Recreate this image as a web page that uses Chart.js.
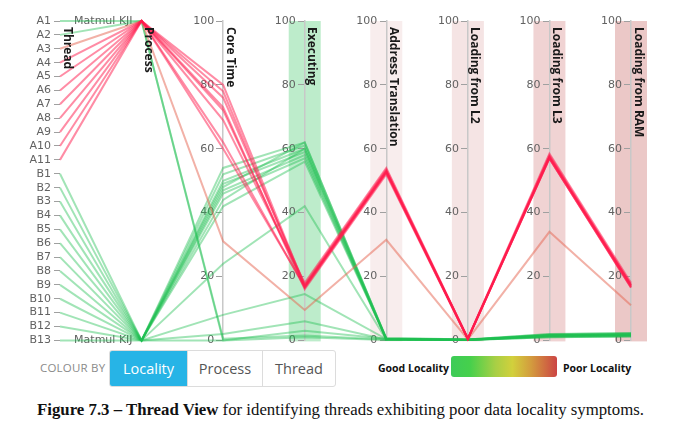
<!DOCTYPE html>
<html>
<head>
<meta charset="utf-8">
<script src="https://cdn.jsdelivr.net/npm/chart.js@4"></script>
<style>
  body { margin: 0; background: #fff; width: 681px; height: 430px; position: relative; overflow: hidden; }
  #wrap { position: absolute; left: 0; top: 0; width: 681px; height: 350px; }
  .cb { position: absolute; left: 40px; top: 360px; font: 11.5px "Open Sans", sans-serif; color: #8a8a8a; letter-spacing: 0.2px; }
  .btns { position: absolute; left: 109px; top: 350px; height: 35px; border: 1px solid #dcdcdc; border-radius: 3px; display: flex; overflow: hidden; }
  .btns span { display: block; height: 35px; font: 14.5px "Open Sans", sans-serif; line-height: 35px; text-align: center; color: #555; border-left: 1px solid #dcdcdc; }
  .btns span.on { background: #27b4e6; color: #fff; border-left: none; }
  .lg { position: absolute; top: 361px; font: bold 10.5px "Open Sans", sans-serif; color: #111; }
  .bar { position: absolute; left: 451px; top: 356px; width: 106px; height: 21px; border-radius: 3px;
         background: linear-gradient(to right, #3dcb58 0%, #46d04c 18%, #a8cf45 42%, #d2d03c 58%, #d39a3e 76%, #cc4444 100%); }
  .cap { position: absolute; left: 0; width: 681px; top: 400px; margin: 0; text-align: center; font: 16.8px "Liberation Serif", serif; color: #111; }
</style>
</head>
<body>
<div id="wrap"><canvas id="pc" width="681" height="350"></canvas></div>
<span class="cb">COLOUR BY</span>
<div class="btns"><span class="on" style="width:77px">Locality</span><span style="width:74px">Process</span><span style="width:72px">Thread</span></div>
<span class="lg" style="left:378px">Good Locality</span>
<span class="bar"></span>
<span class="lg" style="left:563px">Poor Locality</span>
<p class="cap"><b>Figure 7.3 – Thread View</b> for identifying threads exhibiting poor data locality symptoms.</p>

<script>
var dims = ['Thread', 'Process', 'Core Time', 'Executing', 'Address Translation', 'Loading from L2', 'Loading from L3', 'Loading from RAM'];
var threads = ['A1','A2','A3','A4','A5','A6','A7','A8','A9','A10','A11',
               'B1','B2','B3','B4','B5','B6','B7','B8','B9','B10','B11','B12','B13'];
var processes = ['Matmul KJI', 'Matmul KIJ'];
var threadProcess = [0,0,0,0,0,0,0,0,0,0,0, 1,1,1,1,1,1,1,1,1,1,1,1,1];
// 0 = good, 1 = mid, 2 = poor
var locality = [0,0,1,2,2,2,2,2,2,2,2, 0,0,0,0,0,0,0,0,0,0,0,0,0];

var coreTime = [0, 0.5, 31, 80, 78, 76, 73, 72, 69, 62, 60,
                54, 52, 50, 49, 48, 47, 46, 44, 42, 24, 8, 2, 0];
var executing = [3, 1.5, 9.5, 17, 16.5, 17.5, 16, 17, 18, 16.5, 17,
                 62, 61, 60, 59, 62, 58, 57, 60, 56, 42, 14.5, 6, 1];
var addressTranslation = [0.5, 0.3, 31.5, 53, 52.5, 53.5, 52, 53, 54, 52.5, 53,
                          0.5, 0.3, 0.8, 0.2, 0.5, 0.4, 0.6, 0.3, 0.5, 0.2, 0.4, 0.3, 0.1];
var loadL2 = [0.2, 0.1, 0.3, 0.5, 0.5, 0.6, 0.4, 0.5, 0.6, 0.5, 0.5,
              0.2, 0.1, 0.3, 0.2, 0.1, 0.2, 0.3, 0.1, 0.2, 0.1, 0.2, 0.1, 0.1];
var loadL3 = [1.5, 1, 34, 57.5, 57, 58, 57, 57.5, 58.5, 57, 57.5,
              1.7, 1.5, 2, 1.2, 1.8, 1.5, 1.9, 1.4, 1.6, 1.2, 1.5, 1.3, 1];
var loadRAM = [1.8, 1.2, 11, 17, 16.5, 17.5, 16.8, 17.2, 18, 16.6, 17.3,
               2, 1.8, 2.3, 1.5, 2.1, 1.7, 2.2, 1.6, 1.9, 1.4, 1.8, 1.5, 1.2];

var lineColors = ['rgba(30,190,80,0.42)', 'rgba(230,100,80,0.5)', 'rgba(255,25,75,0.5)'];
var bandColors = { 3: '#bdeccb', 4: '#f8eded', 5: '#f5e4e4', 6: '#f0d3d3', 7: '#ebc8c7' };
var labelGap = 0.11; // tick labels sit this far (in x units) left of their axis line

function threadValue(i) { return 100 - i * 100 / (threads.length - 1); }
function processValue(p) { return p === 0 ? 100 : 0; }

var datasets = threads.map(function(t, i) {
  var vals = [threadValue(i), processValue(threadProcess[i]), coreTime[i], executing[i],
              addressTranslation[i], loadL2[i], loadL3[i], loadRAM[i]];
  return {
    label: t,
    data: vals.map(function(v, k) { return { x: k, y: v }; }),
    borderColor: lineColors[locality[i]],
    borderWidth: 2,
    pointRadius: 0,
    tension: 0,
    fill: false,
    clip: false,
    order: 2 - locality[i]
  };
});

var tickFont = { family: 'DejaVu Sans', size: 11 };

var scales = {
  x: { type: 'linear', min: 0, max: 7, display: false },
  y: { type: 'linear', min: 0, max: 100, display: false }
};

function setTicks(s, i) {
  if (i === 0) {
    s.afterBuildTicks = function(sc) { sc.ticks = threads.map(function(t, k) { return { value: threadValue(k) }; }); };
    s.ticks.callback = function(v, k) { return threads[k]; };
  } else if (i === 1) {
    s.afterBuildTicks = function(sc) { sc.ticks = [{ value: 100 }, { value: 0 }]; };
    s.ticks.callback = function(v, k) { return processes[k]; };
  }
}

dims.forEach(function(d, i) {
  // axis line + tick marks
  var m = {
    type: 'linear', axis: 'y', min: 0, max: 100,
    position: { x: i },
    grid: { drawOnChartArea: false, tickLength: 6, color: i === 1 ? 'rgba(0,0,0,0)' : '#a0a0a0' },
    border: { display: i >= 2, color: '#c8c8c8', width: 1.5 },
    ticks: { display: false, autoSkip: false, stepSize: 20 }
  };
  setTicks(m, i);
  scales['ax' + i] = m;
  // tick labels
  var l = {
    type: 'linear', axis: 'y', min: 0, max: 100,
    position: { x: i - labelGap },
    grid: { display: false },
    border: { display: false },
    ticks: { font: tickFont, color: '#626262', autoSkip: false, stepSize: 20 }
  };
  setTicks(l, i);
  scales['lab' + i] = l;
});

var bandPlugin = {
  id: 'bands',
  beforeDraw: function(chart) {
    var ctx = chart.ctx, area = chart.chartArea, xs = chart.scales.x;
    ctx.save();
    Object.keys(bandColors).forEach(function(k) {
      var px = xs.getPixelForValue(+k);
      ctx.fillStyle = bandColors[k];
      ctx.fillRect(px - 16, area.top, 32, area.bottom - area.top + 1);
    });
    ctx.restore();
  }
};

var titlePlugin = {
  id: 'axisTitles',
  afterDraw: function(chart) {
    var ctx = chart.ctx, xs = chart.scales.x, area = chart.chartArea;
    ctx.save();
    ctx.font = 'bold 12px "Open Sans"';
    ctx.fillStyle = '#1a1a1a';
    ctx.textAlign = 'left';
    ctx.textBaseline = 'alphabetic';
    dims.forEach(function(d, i) {
      var px = xs.getPixelForValue(i);
      ctx.save();
      ctx.translate(px + 3.5, area.top + 6);
      ctx.rotate(Math.PI / 2);
      ctx.fillText(d, 0, 0);
      ctx.restore();
    });
    ctx.restore();
  }
};

new Chart(document.getElementById('pc'), {
  type: 'line',
  data: { datasets: datasets },
  options: {
    responsive: false,
    animation: false,
    devicePixelRatio: 1,
    layout: { padding: { left: 60, right: 50, top: 21, bottom: 8 } },
    plugins: { legend: { display: false }, tooltip: { enabled: false } },
    scales: scales
  },
  plugins: [bandPlugin, titlePlugin]
});
</script>
</body>
</html>
